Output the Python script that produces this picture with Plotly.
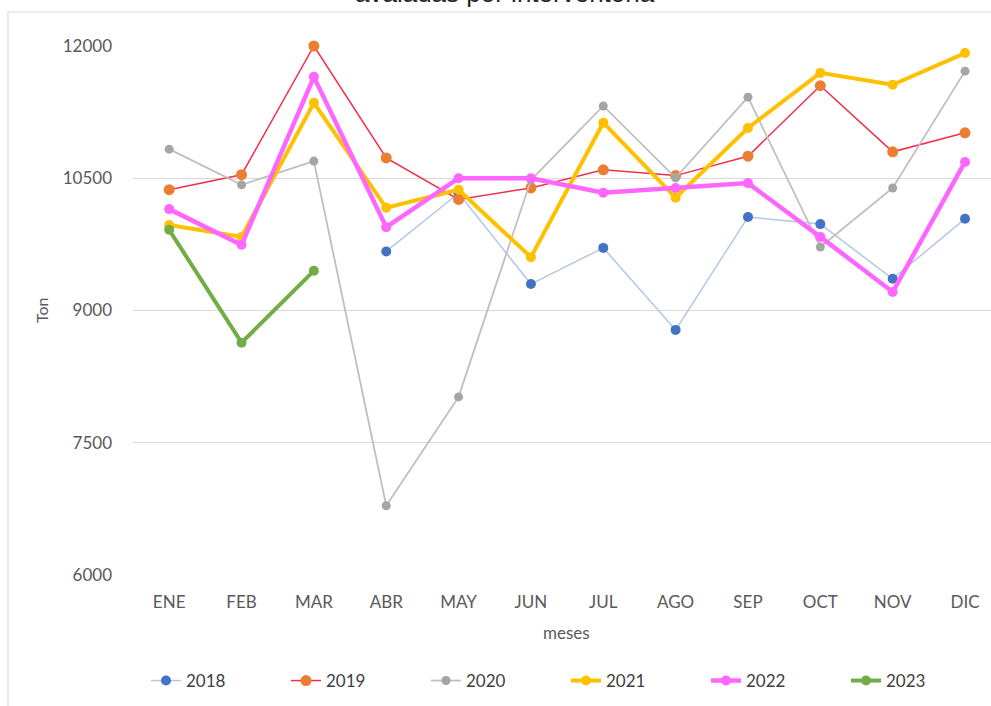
import plotly.graph_objects as go

months = ["ENE", "FEB", "MAR", "ABR", "MAY", "JUN", "JUL", "AGO", "SEP", "OCT", "NOV", "DIC"]
y_ticks = [6000, 7500, 9000, 10500, 12000]

v2018 = [None, None, None, 9670, 10330, 9300, 9710, 8780, 10060, 9980, 9360, 10040]
v2019 = [10370, 10540, 12000, 10730, 10260, 10390, 10595, 10530, 10750, 11550, 10800, 11015]
v2020 = [10830, 10425, 10695, 6785, 8020, 10480, 11320, 10505, 11420, 9720, 10390, 11715]
v2021 = [9970, 9835, 11355, 10165, 10370, 9605, 11130, 10280, 11070, 11695, 11560, 11920]
v2022 = [10150, 9745, 11650, 9945, 10500, 10500, 10335, 10390, 10445, 9835, 9210, 10685]
v2023 = [9915, 8635, 9450]

series = [
    ("2018", v2018, "#B4C7E7", 1.5, "#4472C4", 10),
    ("2019", v2019, "#F0304A", 1.5, "#ED7D31", 11),
    ("2020", v2020, "#BFBFBF", 1.8, "#A5A5A5", 9),
    ("2021", v2021, "#FFC000", 4, "#FFC000", 10),
    ("2022", v2022, "#FF66FF", 4.5, "#FF66FF", 10),
    ("2023", v2023, "#70AD47", 4, "#70AD47", 10),
]

fig = go.Figure()
for name, vals, lc, lw, mc, ms in series:
    fig.add_trace(go.Scatter(
        x=months[:len(vals)], y=vals, name=name, mode="lines+markers",
        line=dict(color=lc, width=lw), marker=dict(color=mc, size=ms),
        cliponaxis=False, connectgaps=False,
    ))

W, H = 991, 706
L, T = 133, 46
PB = 575
R, B = 0, H - PB
pw, ph = W - L - R, PB - T

def px(xp):
    return (xp - L) / pw

def py(yp):
    return (PB - yp) / ph

fig.update_layout(
    width=W, height=H,
    margin=dict(l=L, r=R, t=T, b=B, pad=0),
    paper_bgcolor="white", plot_bgcolor="white",
    font=dict(family="Lato", size=17, color="#595959"),
    showlegend=True,
    legend=dict(
        orientation="h", x=px(146), xanchor="left", y=py(681), yanchor="middle",
        font=dict(family="Lato", size=17, color="#404040"),
        entrywidth=95, entrywidthmode="pixels",
        bgcolor="rgba(0,0,0,0)",
    ),
    xaxis=dict(
        categoryorder="array", categoryarray=months,
        range=[-0.5, -0.5 + pw / 72.35], showgrid=False, zeroline=False,
        showline=False, ticks="", ticklabelstandoff=15,
        tickfont=dict(family="Lato", size=17, color="#595959"),
    ),
    yaxis=dict(
        range=[6000, 12000], tickvals=y_ticks, ticktext=[str(v) for v in y_ticks],
        showgrid=True, gridcolor="#D9D9D9", gridwidth=1, zeroline=False,
        showline=False, ticks="", ticklabelstandoff=20,
        tickfont=dict(family="Lato", size=17, color="#595959"),
    ),
    shapes=[
        dict(type="line", xref="paper", yref="paper", x0=px(8), x1=px(991), y0=py(12), y1=py(12),
             line=dict(color="#D9D9D9", width=1.2), layer="below"),
        dict(type="line", xref="paper", yref="paper", x0=px(8), x1=px(8), y0=py(12), y1=py(706),
             line=dict(color="#D9D9D9", width=1.2), layer="below"),
    ],
    annotations=[
        dict(text="avaladas por interventoria", xref="paper", yref="paper", x=px(505), y=py(10),
             xanchor="center", yanchor="bottom", showarrow=False,
             font=dict(family="Liberation Sans", size=26, color="#262626")),
        dict(text="Ton", xref="paper", yref="paper", x=px(41), y=py(310), textangle=-90,
             xanchor="center", yanchor="middle", showarrow=False,
             font=dict(family="Lato", size=16, color="#595959")),
        dict(text="meses", xref="paper", yref="paper", x=px(566), y=py(632),
             xanchor="center", yanchor="middle", showarrow=False,
             font=dict(family="Lato", size=17, color="#595959")),
    ],
)

# remove the browser's default 8px body margin so the figure sits at the page origin
fig.write_html("out.html", config={"displayModeBar": False},
               post_script="document.body.style.margin='0';")
